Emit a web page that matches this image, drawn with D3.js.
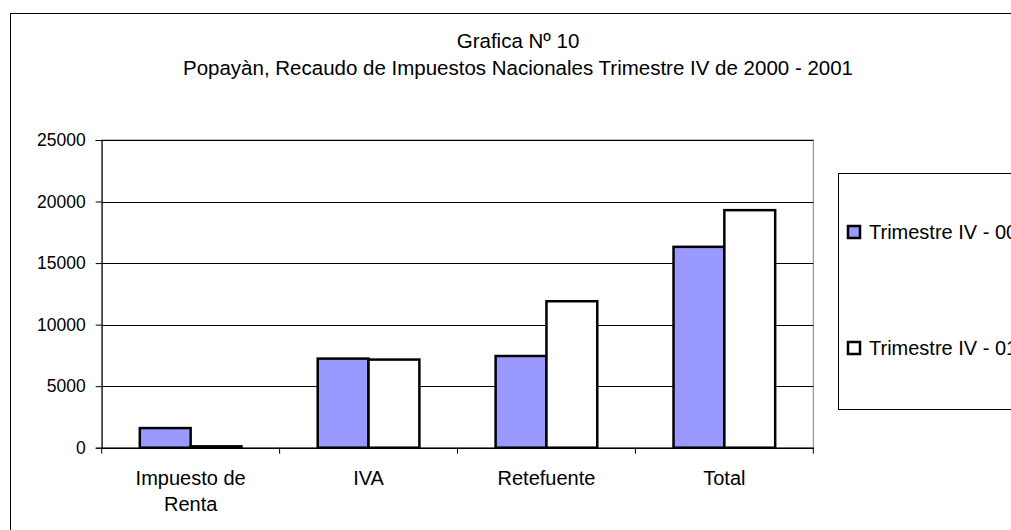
<!DOCTYPE html>
<html>
<head>
<meta charset="utf-8">
<script src="https://cdn.jsdelivr.net/npm/d3@7"></script>
<style>
  html, body { margin: 0; padding: 0; background: #fff; overflow: hidden; }
  text { font-family: "Liberation Sans", Arial, sans-serif; fill: #000; }
</style>
</head>
<body>
<div id="chart"></div>
<script>
// data
var categories = ["Impuesto de Renta", "IVA", "Retefuente", "Total"];
var labelLines = [["Impuesto de", "Renta"], ["IVA"], ["Retefuente"], ["Total"]];
var seriesNames = ["Trimestre IV - 00", "Trimestre IV - 01"];
var trim00 = [1595, 7240, 7450, 16320];
var trim01 = [110, 7160, 11900, 19300];
var yTicks = [0, 5000, 10000, 15000, 20000, 25000];
var seriesColors = ["#9999ff", "#ffffff"];

var svgWidth = 1011;
var svgHeight = 530;

var margin = { top: 140, left: 101.7 };
var width = 711.6;
var height = 307.7;

var svg = d3.select("#chart")
    .append("svg")
    .attr("width", svgWidth)
    .attr("height", svgHeight);

// outer chart frame (runs off the right and bottom edges)
svg.append("rect")
    .attr("x", 10.5)
    .attr("y", 13.5)
    .attr("width", 1100)
    .attr("height", 600)
    .attr("fill", "none")
    .attr("stroke", "#000")
    .attr("stroke-width", 1);

// titles
svg.append("text")
    .attr("x", 518)
    .attr("y", 48)
    .attr("text-anchor", "middle")
    .attr("font-size", "20.5px")
    .text("Grafica Nº 10");

svg.append("text")
    .attr("x", 518)
    .attr("y", 75)
    .attr("text-anchor", "middle")
    .attr("font-size", "20.5px")
    .text("Popayàn, Recaudo de Impuestos Nacionales Trimestre IV de 2000 - 2001");

var chartGroup = svg.append("g")
    .attr("transform", `translate(${margin.left}, ${margin.top})`);

// scales
var x0 = d3.scaleBand()
    .domain(categories)
    .range([0, width])
    .padding(0);

var bw = x0.bandwidth();
var x1 = d3.scaleBand()
    .domain(seriesNames)
    .range([bw * 0.75 / 3.5, bw * 2.75 / 3.5])
    .padding(0);

var y = d3.scaleLinear()
    .domain([0, 25000])
    .range([height, 0]);

// plot area border
chartGroup.append("rect")
    .attr("x", 0)
    .attr("y", 0)
    .attr("width", width)
    .attr("height", height)
    .attr("fill", "#fff")
    .attr("stroke", "#808080")
    .attr("stroke-width", 1);

// gridlines
chartGroup.append("g")
    .selectAll("line")
    .data(yTicks)
    .enter()
    .append("line")
    .attr("x1", 0)
    .attr("x2", width)
    .attr("y1", d => Math.round(y(d)) + 0.5)
    .attr("y2", d => Math.round(y(d)) + 0.5)
    .attr("stroke", "#000")
    .attr("stroke-width", 1);

// y axis
var leftAxis = d3.axisLeft(y)
    .tickValues(yTicks)
    .tickSize(6)
    .tickPadding(10)
    .tickFormat(d3.format("d"));

var yAxis = chartGroup.append("g")
    .call(leftAxis);
yAxis.select(".domain").attr("stroke", "#000");
yAxis.selectAll(".tick line").attr("stroke", "#000");
yAxis.selectAll("text")
    .attr("font-size", "17.5px")
    .attr("font-family", "Liberation Sans, Arial, sans-serif")
    .attr("fill", "#000");

// x axis
var bottomAxis = d3.axisBottom(x0)
    .tickSize(0)
    .tickFormat("");

var xAxis = chartGroup.append("g")
    .attr("transform", `translate(0, ${height})`)
    .call(bottomAxis);
xAxis.select(".domain").attr("stroke", "#000");

// category boundary ticks
xAxis.append("g")
    .selectAll("line")
    .data(d3.range(categories.length + 1))
    .enter()
    .append("line")
    .attr("x1", i => i < categories.length ? x0(categories[i]) : width)
    .attr("x2", i => i < categories.length ? x0(categories[i]) : width)
    .attr("y1", 0)
    .attr("y2", 6)
    .attr("stroke", "#000");

// category labels
var labelGroup = chartGroup.append("g");
categories.forEach(function(c, i) {
    var t = labelGroup.append("text")
        .attr("x", x0(c) + bw / 2)
        .attr("y", height + 37)
        .attr("text-anchor", "middle")
        .attr("font-size", "20px");
    labelLines[i].forEach(function(line, j) {
        t.append("tspan")
            .attr("x", x0(c) + bw / 2)
            .attr("dy", j === 0 ? 0 : 26)
            .text(line);
    });
});

// bars
var rows = categories.map((c, i) => ({ cat: c, values: [trim00[i], trim01[i]] }));

var barGroups = chartGroup.append("g")
    .selectAll("g")
    .data(rows)
    .enter()
    .append("g")
    .attr("transform", d => `translate(${x0(d.cat)}, 0)`);

barGroups.selectAll("rect")
    .data(d => d.values.map((v, k) => ({ key: seriesNames[k], value: v, k: k })))
    .enter()
    .append("rect")
    .attr("x", d => x1(d.key))
    .attr("y", d => y(d.value))
    .attr("width", x1.bandwidth())
    .attr("height", d => height - y(d.value))
    .attr("fill", d => seriesColors[d.k])
    .attr("stroke", "#000")
    .attr("stroke-width", 2.5);

// legend
var legend = svg.append("g");
legend.append("rect")
    .attr("x", 838.5)
    .attr("y", 173.5)
    .attr("width", 300)
    .attr("height", 236)
    .attr("fill", "#fff")
    .attr("stroke", "#000")
    .attr("stroke-width", 1);

var legendY = [232, 348];
seriesNames.forEach(function(name, i) {
    legend.append("rect")
        .attr("x", 848)
        .attr("y", legendY[i] - 6)
        .attr("width", 12)
        .attr("height", 12)
        .attr("fill", seriesColors[i])
        .attr("stroke", "#000")
        .attr("stroke-width", 2.5);
    legend.append("text")
        .attr("x", 869)
        .attr("y", legendY[i] + 7)
        .attr("font-size", "20px")
        .text(name);
});
</script>
</body>
</html>
